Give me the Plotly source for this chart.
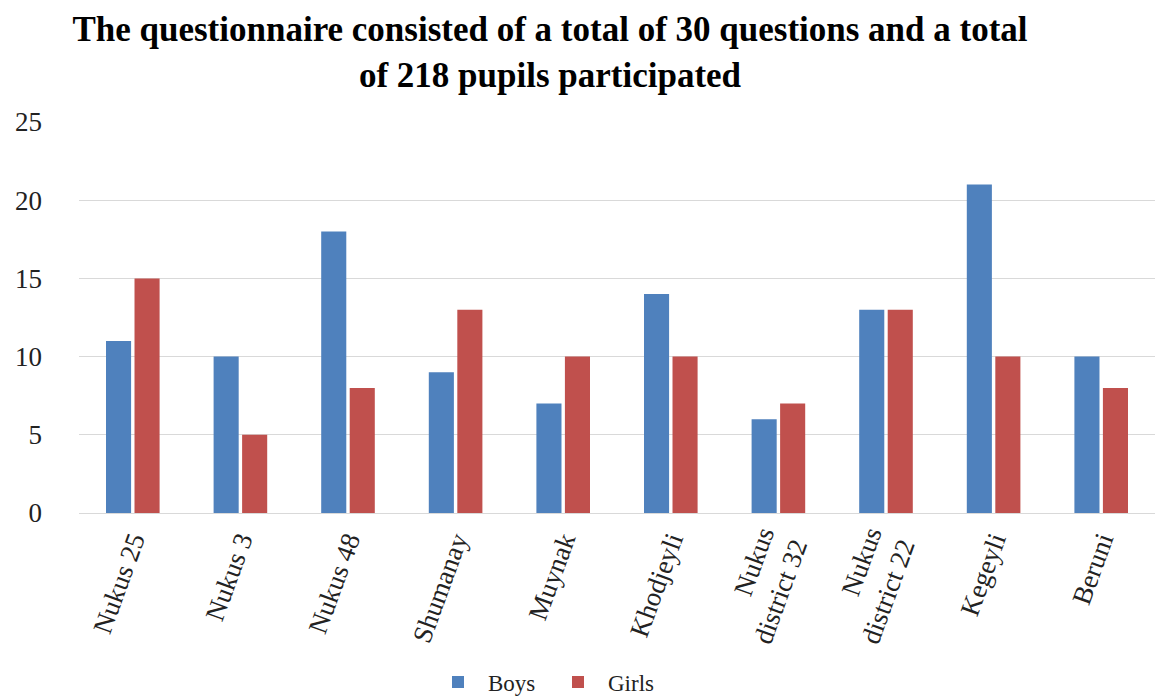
import plotly.graph_objects as go

categories = ["Nukus 25", "Nukus 3", "Nukus 48", "Shumanay", "Muynak", "Khodjeyli",
              "Nukus<br>district 32", "Nukus<br>district 22", "Kegeyli", "Beruni"]
boys = [11, 10, 18, 9, 7, 14, 6, 13, 21, 10]
girls = [15, 5, 8, 13, 10, 10, 7, 13, 10, 8]
y_ticks = [0, 5, 10, 15, 20, 25]

SERIF = "Liberation Serif, Times New Roman, serif"

fig = go.Figure()
fig.add_trace(go.Bar(name="Boys", x=categories, y=boys, marker=dict(color="#4F81BD", line=dict(width=0))))
fig.add_trace(go.Bar(name="Girls", x=categories, y=girls, marker=dict(color="#C0504D", line=dict(width=0))))

fig.update_layout(
    width=1156, height=697,
    margin=dict(l=79, r=1, t=122, b=184, autoexpand=False),
    paper_bgcolor="white", plot_bgcolor="white",
    barmode="group", bargap=0.47, bargroupgap=0.12,
    title=dict(
        text="The questionnaire consisted of a total of 30 questions and a total<br>of 218 pupils participated",
        x=550/1156, xanchor="center", xref="container",
        y=1 - 41/697, yanchor="top", yref="container",
        font=dict(family=SERIF, size=35, color="black", weight="bold"),
    ),
    font=dict(family=SERIF, color="#222222"),
    legend=dict(
        orientation="h", xref="container", yref="container",
        x=548/1156, xanchor="center", y=1 - 682/697, yanchor="middle",
        font=dict(family=SERIF, size=23, color="#222222"),
        itemwidth=50, entrywidth=55,
    ),
    showlegend=True,
)
fig.update_xaxes(
    tickangle=-70, tickfont=dict(family=SERIF, size=27, color="#222222"),
    showline=True, linecolor="#D9D9D9", linewidth=1, ticks="", showgrid=False,
)
fig.update_yaxes(
    range=[0, 25], tickvals=y_ticks, ticktext=[str(v) for v in y_ticks],
    tickfont=dict(family=SERIF, size=27, color="#222222"),
    showgrid=True, gridcolor="#D9D9D9", gridwidth=1, zeroline=False,
    ticklabelstandoff=36, showline=False,
)

fig.write_html("out.html")
